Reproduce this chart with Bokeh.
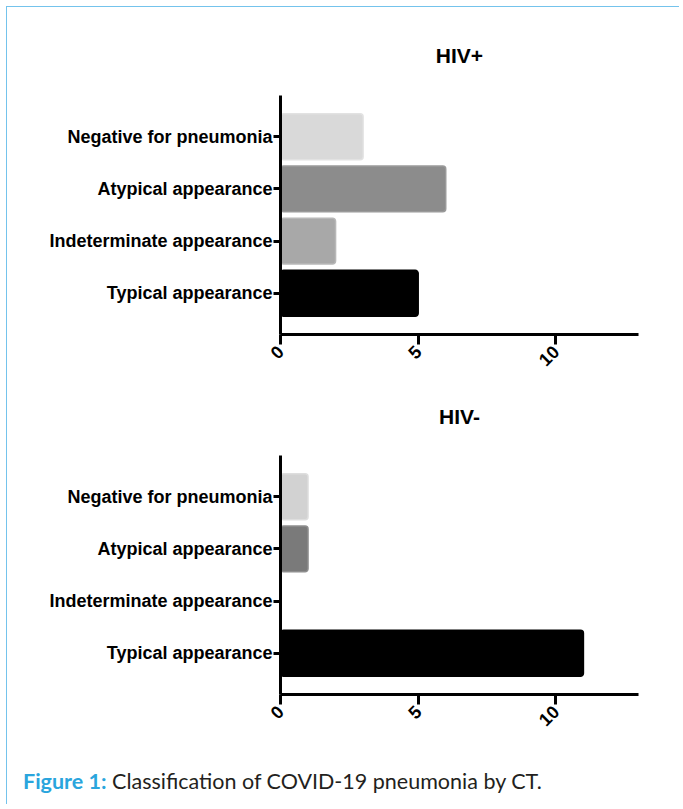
import math
from bokeh.plotting import figure
from bokeh.models import FactorRange, Range1d, FixedTicker, Div, ColumnDataSource
from bokeh.layouts import column
from bokeh.embed import file_html
from bokeh.resources import INLINE

# ---- data ----
categories = ["Typical appearance", "Indeterminate appearance",
              "Atypical appearance", "Negative for pneumonia"]  # bottom -> top
hiv_pos_counts = [5, 2, 6, 3]
hiv_neg_counts = [11, 0, 1, 1]
x_ticks = [0, 5, 10]
titles = ["HIV+", "HIV-"]

# ---- styles ----
pos_fill = ["#000000", "#a8a8a8", "#8c8c8c", "#d9d9d9"]
pos_line = ["#000000", "#b8b8b8", "#9a9a9a", "#e2e2e2"]
neg_fill = ["#000000", "#a8a8a8", "#7a7a7a", "#d2d2d2"]
neg_line = ["#000000", "#b8b8b8", "#8e8e8e", "#dedede"]

LABEL_FONT = "Liberation Sans"


def make_chart(title, counts, fills, lines, top, bottom, fh, standoff):
    p = figure(
        y_range=FactorRange(factors=categories, range_padding=0.145),
        x_range=Range1d(0, 13),
        frame_width=358, frame_height=fh,
        min_border_left=273, min_border_right=41,
        min_border_top=top, min_border_bottom=bottom,
        output_backend="svg", toolbar_location=None, title=title,
    )
    src = ColumnDataSource(dict(cat=categories, val=counts, fill=fills, line=lines,
                                la=[1.0 if v > 0 else 0.0 for v in counts]))
    p.hbar(y="cat", left=0, right="val", height=0.88, source=src,
           fill_color="fill", line_color="line", line_alpha="la", line_width=1.5,
           border_radius=3)
    p.title.text_font = LABEL_FONT
    p.title.text_font_size = "21px"
    p.title.text_font_style = "bold"
    p.title.text_color = "black"
    p.title.align = "center"
    p.title.standoff = standoff
    p.outline_line_color = None
    p.xgrid.visible = False
    p.ygrid.visible = False
    for ax in (p.xaxis, p.yaxis):
        ax.axis_line_width = 3
        ax.axis_line_color = "black"
        ax.major_tick_line_width = 3
        ax.major_tick_line_color = "black"
        ax.major_tick_in = 0
        ax.minor_tick_line_color = None
        ax.major_label_text_font = LABEL_FONT
        ax.major_label_text_font_style = "bold"
        ax.major_label_text_font_size = "18px"
        ax.major_label_text_color = "black"
    p.xaxis.major_tick_out = 10
    p.yaxis.major_tick_out = 7
    p.yaxis.major_label_standoff = 1
    p.xaxis.ticker = FixedTicker(ticks=x_ticks)
    p.xaxis.major_label_orientation = math.pi / 4
    p.xaxis.major_label_standoff = 4
    return p


p1 = make_chart(titles[0], hiv_pos_counts, pos_fill, pos_line, 88, 41, 239, 57)
p2 = make_chart(titles[1], hiv_neg_counts, neg_fill, neg_line, 0, 50, 239, 55)

caption = Div(
    text='<span style="color:#2aa5dd;font-weight:bold">Figure 1:</span> '
         '<span style="color:#231f20">Classification of COVID-19 pneumonia by CT.</span>',
    width=657, height=50,
    styles={"font-family": "Lato", "font-size": "21.5px", "padding-left": "11px",
            "padding-top": "17px"},
)

layout = column(p1, p2, caption, margin=(6, 0, 0, 6),
                styles={"border-top": "1.5px solid #74c3ec",
                        "border-left": "1.5px solid #74c3ec"})

open("out.html", "w").write(file_html(layout, INLINE))
